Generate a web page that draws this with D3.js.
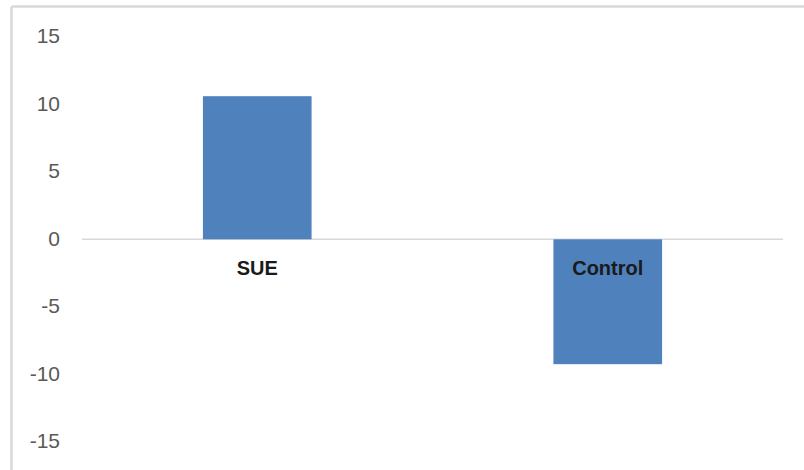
<!DOCTYPE html>
<html>
<head>
<meta charset="utf-8">
<script src="https://cdn.jsdelivr.net/npm/d3@7"></script>
<style>
  html, body { margin: 0; padding: 0; background: #fff; }
  svg { display: block; }
</style>
</head>
<body>
<svg id="chart" width="804" height="470"></svg>
<script>
// Chart data
const categories = ["SUE", "Control"];
const values = [10.6, -9.25];
const yTicks = [-15, -10, -5, 0, 5, 10, 15];

const W = 804, H = 470;
const plot = { left: 82, right: 783, top: 36.8, bottom: 441.8 };

const svg = d3.select("#chart");

// Chart frame (top and left edges)
svg.append("line")
  .attr("x1", 11.5).attr("x2", W).attr("y1", 6.5).attr("y2", 6.5)
  .attr("stroke", "#d9d9d9").attr("stroke-width", 2.5);
svg.append("line")
  .attr("x1", 11.5).attr("x2", 11.5).attr("y1", 6.5).attr("y2", H)
  .attr("stroke", "#d9d9d9").attr("stroke-width", 2.5);

const x = d3.scaleBand()
  .domain(categories)
  .range([plot.left, plot.right])
  .paddingInner(0.69)
  .paddingOuter(0.345);

const y = d3.scaleLinear()
  .domain([-15, 15])
  .range([plot.bottom, plot.top]);

// Value axis labels (plain hyphen for negatives)
const yAxis = svg.append("g")
  .attr("transform", `translate(${plot.left},0)`)
  .call(d3.axisLeft(y).tickValues(yTicks).tickSize(0).tickPadding(22).tickFormat(d => String(d)));
yAxis.select(".domain").remove();
yAxis.selectAll("text")
  .attr("font-family", "'Liberation Sans', Arial, sans-serif")
  .attr("font-size", 21)
  .attr("fill", "#595959")
  .attr("dy", "0.28em");

// Zero line
svg.append("line")
  .attr("x1", plot.left).attr("x2", plot.right)
  .attr("y1", y(0)).attr("y2", y(0))
  .attr("stroke", "#d9d9d9").attr("stroke-width", 1.5);

// Bars
svg.append("g").selectAll("rect")
  .data(categories.map((c, i) => ({ c, v: values[i] })))
  .join("rect")
  .attr("x", d => x(d.c))
  .attr("width", x.bandwidth())
  .attr("y", d => y(Math.max(0, d.v)))
  .attr("height", d => Math.abs(y(d.v) - y(0)))
  .attr("fill", "#4f81bd");

// Category labels, placed just below the zero line
const xAxis = svg.append("g")
  .attr("transform", `translate(0,${y(0)})`)
  .call(d3.axisBottom(x).tickSize(0).tickPadding(22));
xAxis.select(".domain").remove();
xAxis.selectAll("text")
  .attr("font-family", "'Liberation Sans', Arial, sans-serif")
  .attr("font-size", 20)
  .attr("font-weight", "bold")
  .attr("fill", "#1a1a1a");
</script>
</body>
</html>
